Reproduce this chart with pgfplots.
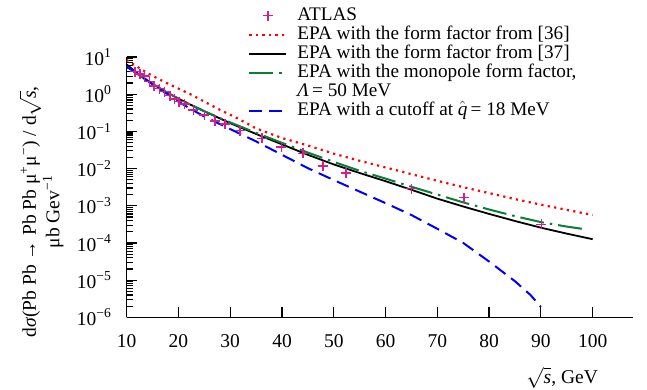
\documentclass[border=0pt]{standalone}
\usepackage{fontspec}
\setmainfont{Liberation Serif}
\usepackage{pgfplots}
\pgfplotsset{compat=1.18}
\definecolor{atlas}{RGB}{210,30,145}
\definecolor{epagreen}{RGB}{10,125,55}
\begin{document}
\begin{tikzpicture}
\begin{axis}[
  scale only axis, width=506.3pt, height=260.3pt,
  xmin=10, xmax=107.8, ymin=1e-6, ymax=10, ymode=log,
  axis x line*=bottom, axis y line*=left,
  axis line style={-, line width=1.5pt},
  tick align=inside, major tick length=10pt, minor tick length=6pt,
  every tick/.style={black, line width=1.2pt},
  xtick={10,20,...,100},
  ytick={1e-6,1e-5,1e-4,1e-3,1e-2,1e-1,1,10},
  yticklabels={10\textsuperscript{−6},10\textsuperscript{−5},10\textsuperscript{−4},10\textsuperscript{−3},10\textsuperscript{−2},10\textsuperscript{−1},10\textsuperscript{0},10\textsuperscript{1}},
  /pgf/number format/assume math mode=true,
  tick label style={font=\fontsize{19.5}{19.5}\selectfont},
  xticklabel style={anchor=north, inner sep=0pt, yshift=-17.5pt},
  yticklabel style={anchor=east, inner sep=0pt, xshift=-15pt},
  xlabel={$\sqrt{\textit{s}}$, GeV},
  xlabel style={at={(axis description cs:0.931,0)}, anchor=base east, yshift=-66pt, inner sep=0pt, font=\fontsize{19.5}{19.5}\selectfont},
  ylabel={d\textit{σ}(Pb Pb → Pb Pb μ\textsuperscript{+}μ\textsuperscript{−}) / d$\sqrt{\textit{s}}$,\\ μb Gev\textsuperscript{−1}},
  ylabel style={at={(axis description cs:-0.168,0.405)}, anchor=center, align=center, inner sep=0pt, font=\fontsize{19.5}{23.5}\selectfont},
  legend style={at={(axis description cs:0.2396,1.196)}, anchor=north west, draw=none, fill=none,
    font=\fontsize{19.2}{19}\selectfont, row sep=0pt, column sep=10pt, inner sep=0pt,
    nodes={inner sep=0pt, text height=14pt, text depth=5pt}},
  legend cell align=left,
  legend image code/.code={\draw[mark repeat=2,mark phase=2,#1] plot coordinates {(0pt,0pt) (18.5pt,0pt) (37pt,0pt)};},
]
\addplot[only marks, mark=+, mark size=5pt, color=atlas, mark options={line width=1.6pt}] coordinates {
(11.6,4.03) (12.6,3.49) (13.4,3.08) (14.4,2.22) (15.3,1.66) (16.3,1.41) (17.3,1.17)
(18.4,0.912) (19.2,0.729) (20.1,0.631) (21.2,0.537) (22.9,0.376) (25.0,0.275)
(27.0,0.191) (29.0,0.155) (31.9,0.105) (36.1,0.0646) (39.9,0.0380) (44.1,0.0257)
(47.9,0.0117) (52.4,0.00759) (65.0,0.00288) (75.2,0.00166) (90.1,0.000316)
};
\addlegendentry{ATLAS}
\addplot[red, line width=2.2pt, dash pattern=on 2.2pt off 4.3pt] coordinates {
(10,8.318) (12,5.495) (14,3.715) (16,2.630) (18,1.905) (20,1.413) (22,1.047) (25,0.631)
(28,0.380) (31,0.240) (35,0.120) (40,0.0661) (45,0.0417) (50,0.0251) (55,0.0162)
(60,0.0107) (65,0.00708) (70,0.00468) (75,0.00316) (80,0.00219) (85,0.00151)
(90,0.00107) (95,0.000776) (100,0.000562)
};
\addlegendentry{EPA with the form factor from [36]}
\addplot[black, line width=1.8pt] coordinates {
(10,6.31) (12,3.72) (14,2.34) (16,1.55) (18,1.07) (20,0.759) (22,0.550) (25,0.347)
(30,0.166) (35,0.0851) (40,0.0447) (45,0.0234) (50,0.0129) (55,0.00759) (60,0.00457)
(65,0.00269) (70,0.00155) (75,0.000955) (80,0.000603) (85,0.000389) (90,0.000257)
(95,0.000178) (100,0.000126)
};
\addlegendentry{EPA with the form factor from [37]}
\addplot[epagreen, line width=2pt, dash pattern=on 24pt off 6pt on 2.5pt off 6pt] coordinates {
(10,5.50) (12,3.55) (14,2.29) (16,1.55) (18,1.07) (20,0.759) (22,0.550) (25,0.347)
(30,0.174) (35,0.0912) (40,0.0490) (45,0.0269) (50,0.0151) (55,0.00871) (60,0.00537)
(65,0.00324) (70,0.00200) (75,0.00123) (80,0.000794) (85,0.000525) (90,0.000363)
(95,0.000275) (98.5,0.000234)
};
\addlegendentry{EPA with the monopole form factor,}
\addlegendimage{opacity=0}
\addlegendentry{\textit{Λ}\,= 50 MeV}
\addplot[blue, line width=2pt, dash pattern=on 13pt off 7pt] coordinates {
(10,5.50) (12,3.63) (14,2.29) (16,1.48) (18,0.977) (20,0.631) (22,0.427) (25,0.251)
(30,0.115) (35,0.0537) (40,0.0234) (45,0.01023) (50,0.00490) (55,0.00240) (60,0.001175)
(65,0.000562) (70,0.000240) (75,0.000100) (80,3.16e-5) (85,9.33e-6) (88,3.98e-6) (90,1.91e-6)
};
\addlegendentry{EPA with a cutoff at $\hat{\textit{q}}$\,= 18 MeV}
\end{axis}
\pgfresetboundingbox
\useasboundingbox (-126.7pt,-72.7pt) rectangle (520.3pt,317.3pt);
\end{tikzpicture}
\end{document}
